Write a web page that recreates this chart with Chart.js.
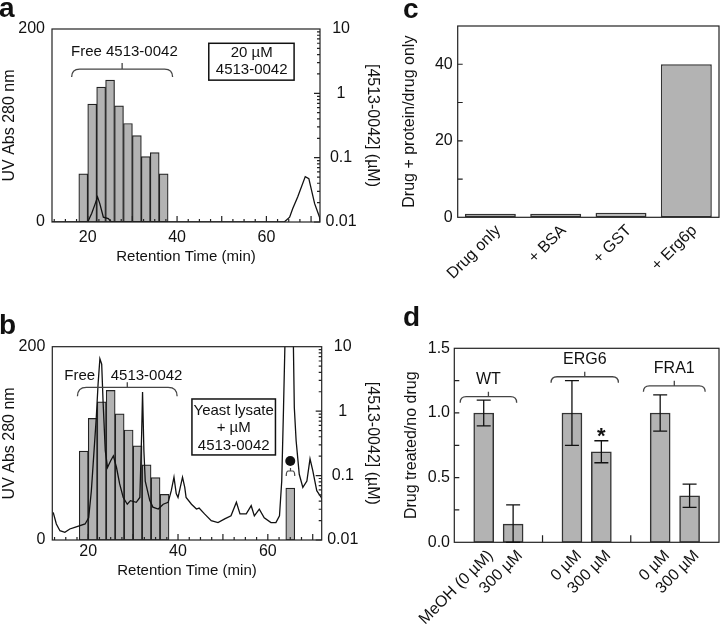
<!DOCTYPE html>
<html>
<head>
<meta charset="utf-8">
<script src="https://cdn.jsdelivr.net/npm/chart.js@4.4.0/dist/chart.umd.min.js"></script>
<style>
  body { margin: 0; background: #fff; width: 720px; height: 626px; position: relative; overflow: hidden;
         font-family: "Liberation Sans", Arial, Helvetica, sans-serif; }
  canvas { position: absolute; }
  .tag { position: absolute; font-weight: bold; font-size: 28px; line-height: 1; color: #111; }
</style>
</head>
<body>
<canvas id="ca" width="395" height="275" style="left:0;top:0"></canvas>
<canvas id="cb" width="395" height="295" style="left:0;top:300px"></canvas>
<canvas id="cc" width="360" height="300" style="left:360px;top:0"></canvas>
<canvas id="cd" width="360" height="326" style="left:360px;top:300px"></canvas>
<div class="tag" style="left:-1px;top:-6px">a</div>
<div class="tag" style="left:-1px;top:311px">b</div>
<div class="tag" style="left:403px;top:-5px">c</div>
<div class="tag" style="left:403px;top:303px">d</div>
<script>
var FONT = '"Liberation Sans", Arial, Helvetica, sans-serif';

// panel a : drug alone, UV trace (left axis) + fraction concentration (right, log)
var aTime = [12, 20, 20.9, 21.6, 22.2, 22.7, 23.5, 24.6, 25.3, 64, 65.2, 65.9, 67, 68.7, 69.5, 70.8, 71.9, 72];
var aUV = [0, 0, 9, 18, 26, 19, 5, 3.5, 0, 0, 5, 14, 26, 47, 45, 19, 5, 0];
var aBin = [19, 21, 23, 25, 27, 29, 31, 33, 35, 37];
var aConc = [0.056, 0.68, 1.25, 1.6, 0.64, 0.34, 0.22, 0.104, 0.12, 0.056];

// panel b : yeast lysate + drug
var bTime = [12.2, 12.9, 13.7, 14.8, 15.9, 17.0, 19.3, 20.1, 20.7, 21.3, 21.8, 22.2, 22.6, 23.0, 23.3, 23.8,
  24.3, 25.0, 25.6, 26.3, 27.0, 27.8, 28.7, 29.4, 30.7, 31.5, 31.9, 32.1, 32.4, 32.7, 33.7, 34.4, 35.6, 36.7,
  37.8, 38.5, 39.1, 39.6, 40.0, 41.0, 41.5, 41.8, 43.0, 44.1, 44.7, 45.9, 47.4, 48.9, 50.4, 51.8, 53.0, 53.8,
  55.2, 56.3, 57.0, 58.1, 59.2, 60.7, 61.8, 62.6, 63.1, 63.5, 63.8, 64.7, 65.7, 65.9, 66.3, 67.0, 67.8, 68.7,
  69.4, 70.0, 70.9, 71.9, 72.2];
var bUV = [28.6, 16.6, 9.6, 7.9, 11.4, 13, 16.6, 23, 51, 92.5, 127, 161.7, 187.5, 182, 144, 92.5,
  75, 82, 87, 75, 58, 44, 37, 40.7, 39, 44, 110, 153, 92, 61, 41, 34, 32, 37,
  39, 51, 65, 48, 44, 65, 54.5, 44, 37, 32, 33, 27, 20, 18, 21.8, 25, 39, 27,
  27, 35.5, 25, 32, 23, 18, 18, 25, 61, 137, 200, 500, 200, 137, 103, 68, 54.5, 61,
  84, 72, 51, 44, 41];
var bBin = [19, 21, 23, 25, 27, 29, 31, 33, 35, 37, 65];
var bConc = [0.24, 0.77, 1.39, 2.1, 0.91, 0.51, 0.29, 0.147, 0.093, 0.051, 0.064];

// panel c
var cCats = ['Drug only', '+ BSA', '+ GST', '+ Erg6p'];
var cRatio = [0.9, 0.9, 1.2, 40];

// panel d
var dCats = ['', 'MeOH (0 µM)', '300 µM', '', '0 µM', '300 µM', '', '0 µM', '300 µM', ''];
var dMean = [null, 1.0, 0.14, null, 1.0, 0.70, null, 1.0, 0.36, null];
var dErr = [null, 0.10, 0.15, null, 0.25, 0.085, null, 0.14, 0.09, null];
var dStar = ['', '', '', '', '', '*', '', '', '', ''];
var dGroups = ['WT', 'ERG6', 'FRA1'];

Chart.defaults.font.family = FONT;
Chart.defaults.font.size = 16;
Chart.defaults.color = '#111';
Chart.defaults.animation = false;
Chart.defaults.responsive = false;
Chart.defaults.plugins.legend.display = false;
Chart.defaults.plugins.tooltip.enabled = false;

function noGrid() { return { display: false, drawTicks: false }; }
function fixW(w) { return function(s) { s.width = w; s.paddingTop = 0; s.paddingBottom = 0; }; }
function fixH(h) { return function(s) { s.height = h; s.paddingLeft = 0; s.paddingRight = 0; }; }

function bracket(ctx, x1, x2, y, drop, up) {
  var r = Math.min(drop, (x2 - x1) / 4);
  var xm = (x1 + x2) / 2;
  ctx.beginPath();
  ctx.moveTo(x1, y + drop);
  ctx.quadraticCurveTo(x1, y, x1 + r, y);
  ctx.lineTo(x2 - r, y);
  ctx.quadraticCurveTo(x2, y, x2, y + drop);
  ctx.moveTo(xm, y);
  ctx.lineTo(xm, y - up);
  ctx.stroke();
}

function text(ctx, s, x, y, size, bold) {
  ctx.font = (bold ? 'bold ' : '') + size + 'px ' + FONT;
  ctx.fillText(s, x, y);
}

function frame(chart) {
  var a = chart.chartArea, ctx = chart.ctx;
  ctx.strokeStyle = '#222';
  ctx.lineWidth = 1.2;
  ctx.strokeRect(a.left, a.top, a.width, a.height);
}

// inner ticks of the chromatogram panels
function chromTicks(chart) {
  var a = chart.chartArea, ctx = chart.ctx, x = chart.scales.x, yr = chart.scales.yR;
  ctx.beginPath();
  for (var t = 12.5; t < 72; t += 2.5) {
    var px = x.getPixelForValue(t);
    ctx.moveTo(px, a.bottom);
    ctx.lineTo(px, a.bottom - (t % 10 === 0 ? 6 : 3));
  }
  for (var e = -2; e <= 0; e++) {
    for (var m = 1; m < 10; m++) {
      var py = yr.getPixelForValue(m * Math.pow(10, e));
      ctx.moveTo(a.right, py);
      ctx.lineTo(a.right - (m === 1 ? 6 : 3), py);
    }
  }
  ctx.stroke();
}

function chromChart(id, time, uv, bins, conc, g, extras) {
  return new Chart(document.getElementById(id), {
    type: 'bar',
    data: {
      datasets: [
        {
          type: 'line',
          data: time.map(function(t, i) { return { x: t, y: uv[i] }; }),
          yAxisID: 'yL',
          borderColor: '#111',
          borderWidth: 1.3,
          pointRadius: 0,
          order: 0
        },
        {
          type: 'bar',
          data: bins.map(function(t, i) { return { x: t, y: conc[i] }; }),
          yAxisID: 'yR',
          backgroundColor: '#b3b3b3',
          borderColor: '#222',
          borderWidth: 1.2,
          borderSkipped: false,
          barPercentage: 1,
          categoryPercentage: 1,
          order: 1
        }
      ]
    },
    options: {
      layout: { padding: { top: g.top, left: 0, right: 0, bottom: 0 } },
      scales: {
        x: {
          type: 'linear', min: 12, max: 72, offset: false,
          grid: noGrid(), border: { display: false },
          ticks: { stepSize: 2, autoSkip: false, maxRotation: 0, padding: g.tickPad,
                   callback: function(v) { return v % 20 === 0 ? v : ''; } },
          title: { display: true, text: 'Retention Time (min)', font: { size: 15 },
                   padding: { top: 0, bottom: g.titlePad } },
          afterFit: fixH(g.xH)
        },
        yL: {
          position: 'left', min: 0, max: 200,
          grid: noGrid(), border: { display: false },
          ticks: { stepSize: 200, padding: 7 },
          title: { display: true, text: 'UV Abs 280 nm', padding: { top: 0, bottom: 0 } },
          afterFit: fixW(g.left)
        },
        yR: {
          type: 'logarithmic', position: 'right', min: 0.01, max: 10,
          grid: noGrid(), border: { display: false },
          ticks: { autoSkip: false, crossAlign: 'center', padding: 5.5,
                   callback: function(v) {
                     var l = Math.log10(v);
                     return Math.abs(l - Math.round(l)) < 1e-9 ? String(+v.toPrecision(3)) : '';
                   } },
          title: { display: true, text: '[4513-0042] (µM)', padding: { top: 12.5, bottom: 0 } },
          afterFit: fixW(g.right)
        }
      }
    },
    plugins: [{
      id: id + 'Extras',
      afterDatasetsDraw: function(chart) {
        var ctx = chart.ctx;
        ctx.save();
        frame(chart);
        chromTicks(chart);
        var X = function(v) { return chart.scales.x.getPixelForValue(v); };
        var Y = function(v) { return chart.scales.yL.getPixelForValue(v); };
        extras(ctx, X, Y);
        ctx.restore();
      }
    }]
  });
}

chromChart('ca', aTime, aUV, aBin, aConc,
  { top: 29, xH: 53, left: 52, right: 75, tickPad: 5.7, titlePad: 8.7 },
  function(ctx, X, Y) {
    ctx.strokeStyle = '#444';
    ctx.lineWidth = 1.3;
    bracket(ctx, X(16.4), X(39), Y(158.5), 8, 6);
    ctx.fillStyle = '#111';
    ctx.textAlign = 'center';
    ctx.textBaseline = 'middle';
    text(ctx, 'Free 4513-0042', X(28.2), Y(176), 15);
    ctx.strokeStyle = '#111';
    ctx.lineWidth = 1.5;
    ctx.strokeRect(X(47.1), Y(185.2), X(66.2) - X(47.1), Y(147) - Y(185.2));
    text(ctx, '20 µM', X(56.7), Y(175), 15);
    text(ctx, '4513-0042', X(56.7), Y(157.5), 15);
  });

chromChart('cb', bTime, bUV, bBin, bConc,
  { top: 46.7, xH: 55, left: 52.3, right: 73.3, tickPad: 2.4, titlePad: 14.7 },
  function(ctx, X, Y) {
    ctx.fillStyle = '#111';
    ctx.textAlign = 'center';
    ctx.textBaseline = 'middle';
    text(ctx, 'Free', X(18.1), Y(169.7), 15);
    text(ctx, '4513-0042', X(33), Y(169.7), 15);
    ctx.strokeStyle = '#444';
    ctx.lineWidth = 1.3;
    bracket(ctx, X(17.6), X(39.8), Y(158), 9, 5);
    // sample box
    ctx.fillStyle = '#fff';
    ctx.fillRect(X(43.1), Y(145.9), X(61.7) - X(43.1), Y(88) - Y(145.9));
    ctx.strokeStyle = '#111';
    ctx.lineWidth = 1.5;
    ctx.strokeRect(X(43.1), Y(145.9), X(61.7) - X(43.1), Y(88) - Y(145.9));
    ctx.fillStyle = '#111';
    text(ctx, 'Yeast lysate', X(52.4), Y(133.5), 15);
    text(ctx, '+ µM', X(52.4), Y(116.2), 15);
    text(ctx, '4513-0042', X(52.4), Y(97.6), 15);
    // bound fraction marker
    ctx.beginPath();
    ctx.arc(X(65), Y(81.7), 5, 0, 2 * Math.PI);
    ctx.fill();
    ctx.strokeStyle = '#444';
    ctx.lineWidth = 1.2;
    bracket(ctx, X(64.1), X(66), Y(71.4), 5, 3);
  });

new Chart(document.getElementById('cc'), {
  type: 'bar',
  data: {
    labels: cCats,
    datasets: [{
      data: cRatio,
      backgroundColor: '#b3b3b3',
      borderColor: '#333',
      borderWidth: 1.5,
      borderSkipped: false,
      barPercentage: 0.78,
      categoryPercentage: 1
    }]
  },
  options: {
    layout: { padding: { top: 26, left: 0, right: 1, bottom: 0 } },
    scales: {
      x: {
        grid: noGrid(), border: { display: false },
        ticks: { autoSkip: false, minRotation: 45, maxRotation: 45, padding: 4, labelOffset: 8 },
        afterFit: fixH(82.7)
      },
      y: {
        min: 0, max: 50,
        grid: noGrid(), border: { display: false },
        ticks: { stepSize: 10, padding: 5,
                 callback: function(v) { return v % 20 === 0 ? v : ''; } },
        title: { display: true, text: 'Drug + protein/drug only', padding: { top: 40.4, bottom: 0 } },
        afterFit: fixW(97.7)
      }
    }
  },
  plugins: [{
    id: 'ccExtras',
    afterDatasetsDraw: function(chart) {
      var ctx = chart.ctx, a = chart.chartArea, y = chart.scales.y;
      ctx.save();
      frame(chart);
      ctx.beginPath();
      for (var v = 10; v < 50; v += 10) {
        var py = y.getPixelForValue(v);
        ctx.moveTo(a.left, py);
        ctx.lineTo(a.left + 5, py);
      }
      ctx.stroke();
      ctx.restore();
    }
  }]
});

new Chart(document.getElementById('cd'), {
  type: 'bar',
  data: {
    labels: dCats,
    datasets: [{
      data: dMean,
      backgroundColor: '#b3b3b3',
      borderColor: '#333',
      borderWidth: 1.5,
      borderSkipped: false,
      barThickness: 20
    }]
  },
  options: {
    layout: { padding: { top: 48.3, left: 0, right: 1, bottom: 0 } },
    scales: {
      x: {
        offset: false,
        grid: noGrid(), border: { display: false },
        ticks: { autoSkip: false, minRotation: 45, maxRotation: 45, padding: 4, labelOffset: 7 },
        afterFit: fixH(83.7)
      },
      y: {
        min: 0, max: 1.5,
        grid: noGrid(), border: { display: false },
        ticks: { stepSize: 0.25, padding: 4.3,
                 callback: function(v) { return Math.round(v * 100) % 50 === 0 ? v.toFixed(1) : ''; } },
        title: { display: true, text: 'Drug treated/no drug', padding: { top: 42, bottom: 0 } },
        afterFit: fixW(94.3)
      }
    }
  },
  plugins: [{
    id: 'cdExtras',
    afterDatasetsDraw: function(chart) {
      var ctx = chart.ctx, a = chart.chartArea, x = chart.scales.x, y = chart.scales.y;
      ctx.save();
      frame(chart);
      ctx.beginPath();
      for (var v = 0.25; v < 1.5; v += 0.25) {
        var py = y.getPixelForValue(v);
        ctx.moveTo(a.left, py);
        ctx.lineTo(a.left + 5, py);
      }
      dCats.forEach(function(c, i) {
        if (c === '' && i > 0 && i < dCats.length - 1) {
          var px = x.getPixelForValue(i);
          ctx.moveTo(px, a.bottom);
          ctx.lineTo(px, a.bottom - 7);
        }
      });
      ctx.stroke();

      // error bars
      ctx.strokeStyle = '#111';
      ctx.lineWidth = 1.3;
      ctx.beginPath();
      dMean.forEach(function(m, i) {
        if (m === null) return;
        var px = x.getPixelForValue(i);
        var top = y.getPixelForValue(m + dErr[i]);
        var bot = Math.min(a.bottom, y.getPixelForValue(m - dErr[i]));
        ctx.moveTo(px, top); ctx.lineTo(px, bot);
        ctx.moveTo(px - 7, top); ctx.lineTo(px + 7, top);
        ctx.moveTo(px - 7, bot); ctx.lineTo(px + 7, bot);
      });
      ctx.stroke();

      ctx.fillStyle = '#111';
      ctx.textAlign = 'center';
      ctx.textBaseline = 'alphabetic';
      dStar.forEach(function(s, i) {
        if (!s) return;
        text(ctx, s, x.getPixelForValue(i), y.getPixelForValue(dMean[i] + dErr[i]) + 2, 22, true);
      });

      // strain brackets
      var spans = [[0.2, 2.12, 1.126], [3.29, 5.58, 1.28], [6.43, 8.53, 1.21]];
      ctx.strokeStyle = '#444';
      ctx.lineWidth = 1.3;
      ctx.textBaseline = 'middle';
      dGroups.forEach(function(gName, k) {
        var s = spans[k];
        var yy = y.getPixelForValue(s[2]);
        bracket(ctx, x.getPixelForValue(s[0]), x.getPixelForValue(s[1]), yy, 6, 5);
        text(ctx, gName, (x.getPixelForValue(s[0]) + x.getPixelForValue(s[1])) / 2, yy - 17, 16);
      });
      ctx.restore();
    }
  }]
});
</script>
</body>
</html>
